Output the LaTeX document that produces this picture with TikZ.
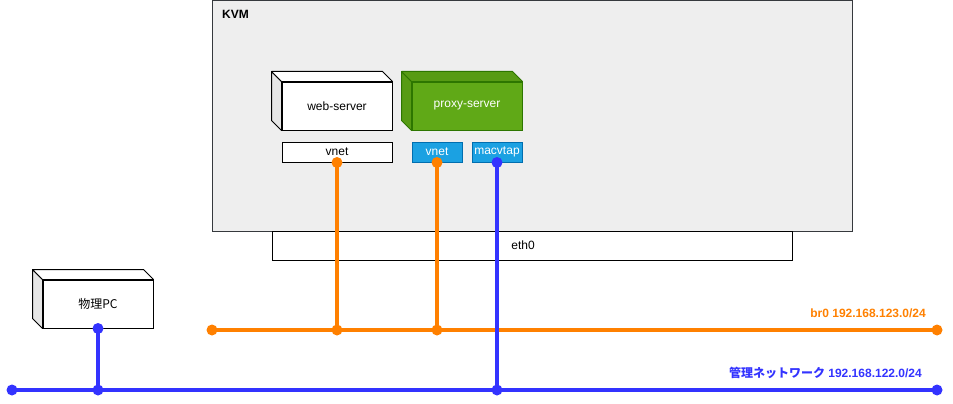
\documentclass[tikz,border=0pt]{standalone}
\usepackage{fontspec}
\setmainfont{Liberation Sans}
\newfontfamily\jpfont{Noto Sans CJK JP}
\definecolor{kvmfill}{HTML}{EEEEEE}
\definecolor{kvmline}{HTML}{36393D}
\definecolor{sidegray}{HTML}{E6E6E6}
\definecolor{proxygreen}{HTML}{60A917}
\definecolor{proxyside}{HTML}{579B14}
\definecolor{proxyline}{HTML}{2D7600}
\definecolor{ifblue}{HTML}{1BA1E2}
\definecolor{ifline}{HTML}{006EAF}
\definecolor{netorange}{HTML}{FF8000}
\definecolor{netblue}{HTML}{3333FF}
\begin{document}
\begin{tikzpicture}[x=1pt,y=-1pt]

\tikzset{box/.style={draw,rectangle,inner sep=0pt,line width=1pt,font=\fontsize{12}{14}\selectfont}}
\tikzset{face/.style={draw,line width=1pt,line join=round}}
\tikzset{orangenet/.style={draw=netorange,line width=4pt}}
\tikzset{bluenet/.style={draw=netblue,line width=4pt}}
\tikzset{odot/.style={circle,fill=netorange,inner sep=0pt,minimum size=11pt}}
\tikzset{bdot/.style={circle,fill=netblue,inner sep=0pt,minimum size=11pt}}
\tikzset{label/.style={font=\bfseries\fontsize{12}{14}\selectfont,inner sep=0pt}}

\useasboundingbox (0,0) rectangle (953,404);

% host and its uplink
\node[box,draw=kvmline,fill=kvmfill,minimum width=640pt,minimum height=230pt] (kvm) at (532,116) {};
\node[label,anchor=west] (kvmname) at (222,14) {KVM};
\node[box,fill=white,minimum width=520pt,minimum height=29pt] (eth0) at (532,245.5) {};
\node[font=\fontsize{12}{14}\selectfont] (eth0name) at (523,245) {eth0};

% guests and pc
\node[box,fill=white,minimum width=110pt,minimum height=48pt] (web) at (337,106) {web-server};
\node[box,draw=proxyline,fill=proxygreen,text=white,minimum width=110pt,minimum height=48pt] (proxy) at (467,106) {proxy-server};
\node[box,fill=white,minimum width=110pt,minimum height=48pt,font=\jpfont\fontsize{12}{14}\selectfont] (pc) at (98,304) {物理PC};

\foreach \c/\s/\t/\l in {web/sidegray/white/black, proxy/proxyside/proxyside/proxyline, pc/sidegray/white/black} {
  \filldraw[face,draw=\l,fill=\s] ([shift={(-10,-10)}]\c.north west) -- (\c.north west) -- (\c.south west) -- ([shift={(-10,-10)}]\c.south west) -- cycle;
  \filldraw[face,draw=\l,fill=\t] ([shift={(-10,-10)}]\c.north west) -- ([shift={(-10,-10)}]\c.north east) -- (\c.north east) -- (\c.north west) -- cycle;
}

% interfaces
\node[box,fill=white,minimum width=110pt,minimum height=20pt] (wvnet) at (337,152) {vnet};
\node[box,draw=ifline,fill=ifblue,text=white,minimum width=50pt,minimum height=20pt] (pvnet) at (437,152) {vnet};
\node[box,draw=ifline,fill=ifblue,text=white,minimum width=50pt,minimum height=20pt] (macvtap) at (497,152) {macvtap};

% networks
\coordinate (br0a) at (212,330);
\coordinate (br0b) at (937,330);
\coordinate (mgta) at (12,390);
\coordinate (mgtb) at (937,390);
\coordinate (j1) at (wvnet.south |- br0a);
\coordinate (j2) at (pvnet.south |- br0a);
\coordinate (j3) at (pc.south |- mgta);
\coordinate (j4) at (macvtap.south |- mgta);

\draw[orangenet] (br0a) -- (br0b);
\draw[orangenet] (wvnet.south) -- (j1);
\draw[orangenet] (pvnet.south) -- (j2);
\draw[bluenet] (mgta) -- (mgtb);
\draw[bluenet] (pc.south) -- (j3);
\draw[bluenet] (macvtap.south) -- (j4);

\foreach \p in {br0a,br0b,j1,j2,wvnet.south,pvnet.south}
  \node[odot] at (\p) {};
\foreach \p in {mgta,mgtb,j3,j4,pc.south,macvtap.south}
  \node[bdot] at (\p) {};

\node[label,anchor=east,text=netorange] (br0name) at (926,313) {br0 192.168.123.0/24};
\node[label,anchor=east,text=netblue] (mgtname) at (922,373) {{\jpfont 管理ネットワーク} 192.168.122.0/24};

\end{tikzpicture}
\end{document}
